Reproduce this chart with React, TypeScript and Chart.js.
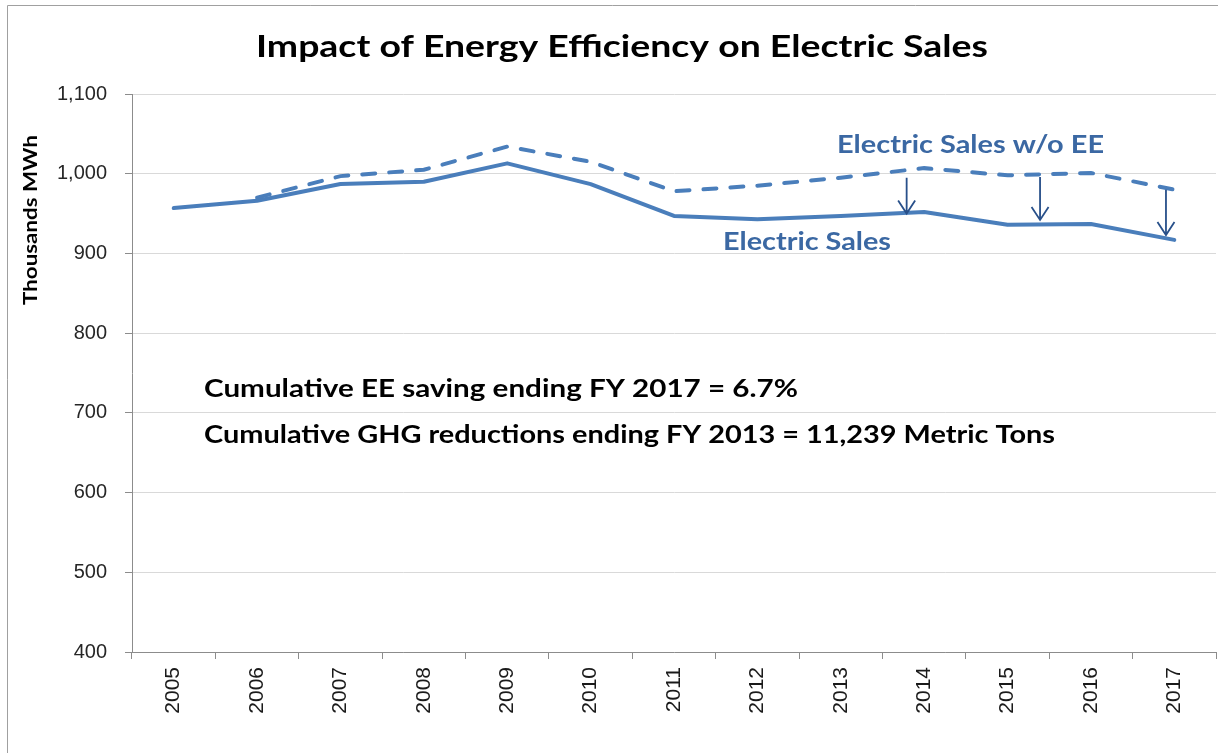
import React, { useEffect, useRef } from "react";
import { Chart, registerables } from "chart.js";

Chart.register(...registerables);

const years = ["2005", "2006", "2007", "2008", "2009", "2010", "2011", "2012", "2013", "2014", "2015", "2016", "2017"];
const electricSales = [957, 966, 987, 990, 1013, 987, 947, 943, 947, 952, 936, 937, 917];
const salesWithoutEE = [null, 970, 997, 1005, 1034, 1015, 978, 985, 995, 1007, 998, 1001, 980];
const yTickValues = [400, 500, 600, 700, 800, 900, 1000, 1100];

// arrows from "w/o EE" line down to actual sales (category index, from value, to value)
const arrowPos = [8.79, 10.39, 11.9];
const arrowFrom = [995, 996, 980];
const arrowTo = [950, 942, 923];

const titleText = "Impact of Energy Efficiency on Electric Sales";
const yAxisTitle = "Thousands MWh";
const labelWithout = "Electric Sales w/o EE";
const labelSales = "Electric Sales";
const note1 = "Cumulative EE saving ending FY 2017 = 6.7%";
const note2 = "Cumulative GHG reductions ending FY 2013 = 11,239 Metric Tons";

const LINE = "#4A7EBB";
const TEXT_BLUE = "#3B68A3";
const ARROW = "#28508A";

function drawFit(ctx: CanvasRenderingContext2D, text: string, x: number, y: number, width: number, font: string, color: string) {
  ctx.save();
  ctx.font = font;
  ctx.fillStyle = color;
  ctx.textBaseline = "alphabetic";
  ctx.textAlign = "left";
  const w = ctx.measureText(text).width;
  ctx.translate(x, y);
  ctx.scale(width / w, 1);
  ctx.fillText(text, 0, 0);
  ctx.restore();
}

const overlayPlugin = {
  id: "overlay",
  afterDraw(chart: any) {
    const ctx: CanvasRenderingContext2D = chart.ctx;
    const xs = chart.scales.x;
    const ys = chart.scales.y;

    // frame
    ctx.save();
    ctx.strokeStyle = "#a0a0a0";
    ctx.lineWidth = 1;
    ctx.beginPath();
    ctx.moveTo(7.5, 753);
    ctx.lineTo(7.5, 5.5);
    ctx.lineTo(1218, 5.5);
    ctx.stroke();
    ctx.restore();

    // title
    drawFit(ctx, titleText, 256, 57, 732, "bold 31px Lato", "#000");

    // y axis title (rotated)
    ctx.save();
    ctx.translate(37, 305);
    ctx.rotate(-Math.PI / 2);
    drawFit(ctx, yAxisTitle, 0, 0, 170, "bold 19px Lato", "#000");
    ctx.restore();

    // series labels
    drawFit(ctx, labelWithout, 837, 153, 267, "bold 25px Lato", TEXT_BLUE);
    drawFit(ctx, labelSales, 723, 250, 168, "bold 25px Lato", TEXT_BLUE);

    // notes
    drawFit(ctx, note1, 204, 397, 594, "bold 24px Lato", "#000");
    drawFit(ctx, note2, 204, 443, 851, "bold 24px Lato", "#000");

    // arrows
    ctx.save();
    ctx.strokeStyle = ARROW;
    ctx.lineWidth = 1.8;
    for (let i = 0; i < arrowPos.length; i++) {
      const px = xs.getPixelForValue(arrowPos[i]);
      const y0 = ys.getPixelForValue(arrowFrom[i]);
      const y1 = ys.getPixelForValue(arrowTo[i]);
      ctx.beginPath();
      ctx.moveTo(px, y0);
      ctx.lineTo(px, y1);
      ctx.moveTo(px - 8.5, y1 - 13);
      ctx.lineTo(px, y1);
      ctx.lineTo(px + 8.5, y1 - 13);
      ctx.stroke();
    }
    ctx.restore();
  },
};

export default function App() {
  const canvasRef = useRef<HTMLCanvasElement | null>(null);

  useEffect(() => {
    if (!canvasRef.current) return;
    const chart = new Chart(canvasRef.current, {
      type: "line",
      data: {
        labels: years,
        datasets: [
          {
            label: labelWithout,
            data: salesWithoutEE,
            borderColor: LINE,
            borderWidth: 4,
            borderDash: [13, 14],
            borderCapStyle: "round",
            pointRadius: 0,
            fill: false,
            tension: 0,
          },
          {
            label: labelSales,
            data: electricSales,
            borderColor: LINE,
            borderWidth: 4,
            borderCapStyle: "round",
            borderJoinStyle: "round",
            pointRadius: 0,
            fill: false,
            tension: 0,
          },
        ],
      },
      options: {
        animation: false,
        responsive: true,
        maintainAspectRatio: false,
        layout: { padding: { top: 94, right: 2, left: 0, bottom: 0 } },
        plugins: {
          legend: { display: false },
          tooltip: { enabled: false },
          title: { display: false },
        },
        scales: {
          x: {
            type: "category",
            offset: true,
            grid: {
              offset: true,
              drawOnChartArea: false,
              drawTicks: true,
              tickLength: 7,
              tickColor: "#8c8c8c",
              color: "#8c8c8c",
            },
            border: { display: true, color: "#8c8c8c", width: 1 },
            ticks: {
              autoSkip: false,
              minRotation: 90,
              maxRotation: 90,
              padding: 8,
              color: "#1a1a1a",
              font: { family: "'Liberation Sans', Arial, sans-serif", size: 21 },
            },
            afterFit: (s: any) => {
              s.height = 101;
            },
          },
          y: {
            type: "linear",
            min: 400,
            max: 1100,
            grid: {
              color: "#d9d9d9",
              lineWidth: 1,
              tickLength: 7,
              tickColor: "#8c8c8c",
            },
            border: { display: true, color: "#8c8c8c", width: 1 },
            ticks: {
              padding: 18,
              color: "#262626",
              font: { family: "'Liberation Sans', Arial, sans-serif", size: 20 },
              callback: (v: any) => Number(v).toLocaleString("en-US"),
            },
            afterBuildTicks: (s: any) => {
              s.ticks = yTickValues.map((v) => ({ value: v }));
            },
            afterFit: (s: any) => {
              s.width = 132;
            },
          },
        },
      },
      plugins: [overlayPlugin],
    });
    return () => chart.destroy();
  }, []);

  return (
    <div style={{ position: "absolute", left: 0, top: 0, width: 1218, height: 753, background: "#fff" }}>
      <canvas ref={canvasRef} />
    </div>
  );
}
